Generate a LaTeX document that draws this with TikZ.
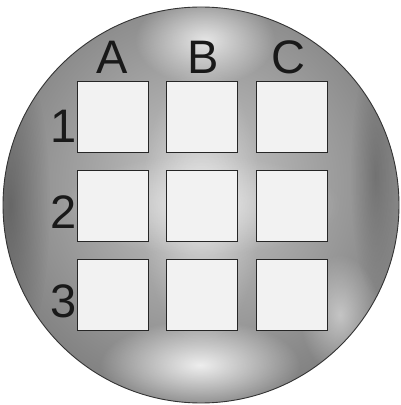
\documentclass[tikz,border=0pt]{standalone}
\usepackage{fontspec}
\setmainfont{Liberation Sans}
\usetikzlibrary{fadings}
\tikzfading[name=softspot, inner color=transparent!0, outer color=transparent!100]
\begin{document}
\begin{tikzpicture}[x=1pt,y=1pt,
  cell/.style={draw=black!85, line width=0.9pt, fill=black!5, minimum width=71pt, minimum height=71pt, inner sep=0pt, outer sep=0pt},
  lab/.style={font=\fontsize{47}{47}\selectfont, text=black!90, inner sep=0pt},
  glow/.style={fill=white, path fading=softspot}]
\useasboundingbox (0,0) rectangle (401,405);
\fill[white] (0,0) rectangle (401,405);
\coordinate (ctr) at (201,200);
\begin{scope}
  \clip (ctr) circle (198);
  \shade[inner color=black!22, outer color=black!52] (201,220) circle (240);
  \fill[glow, opacity=0.75] (205,365) ellipse (70 and 45);
  \fill[glow, opacity=0.85] (200,40) ellipse (100 and 45);
  \fill[glow, opacity=0.5] (340,90) ellipse (40 and 60);
  \fill[glow, opacity=0.45] (201,200) ellipse (60 and 140);
  \fill[glow, opacity=0.45] (201,200) ellipse (140 and 50);
  \fill[black, opacity=0.25, path fading=softspot] (10,200) ellipse (40 and 160);
  \fill[black, opacity=0.2, path fading=softspot] (375,230) ellipse (25 and 120);
\end{scope}
\draw[black!80, line width=0.9pt] (ctr) circle (198);
% cells
\node[cell] (a1) at (112.5,288.5) {};
\node[cell] (b1) at (201.5,288.5) {};
\node[cell] (c1) at (291.5,288.5) {};
\node[cell] (a2) at (112.5,199.5) {};
\node[cell] (b2) at (201.5,199.5) {};
\node[cell] (c2) at (291.5,199.5) {};
\node[cell] (a3) at (112.5,110) {};
\node[cell] (b3) at (201.5,110) {};
\node[cell] (c3) at (291.5,110) {};
% labels
\node[lab, anchor=base] (la) at (112,331) {A};
\node[lab, anchor=base] (lb) at (203,331) {B};
\node[lab, anchor=base] (lc) at (288,331) {C};
\node[lab, anchor=base east] (l1) at (77,262) {1};
\node[lab, anchor=base east] (l2) at (77,176) {2};
\node[lab, anchor=base east] (l3) at (77,87) {3};
\end{tikzpicture}
\end{document}
